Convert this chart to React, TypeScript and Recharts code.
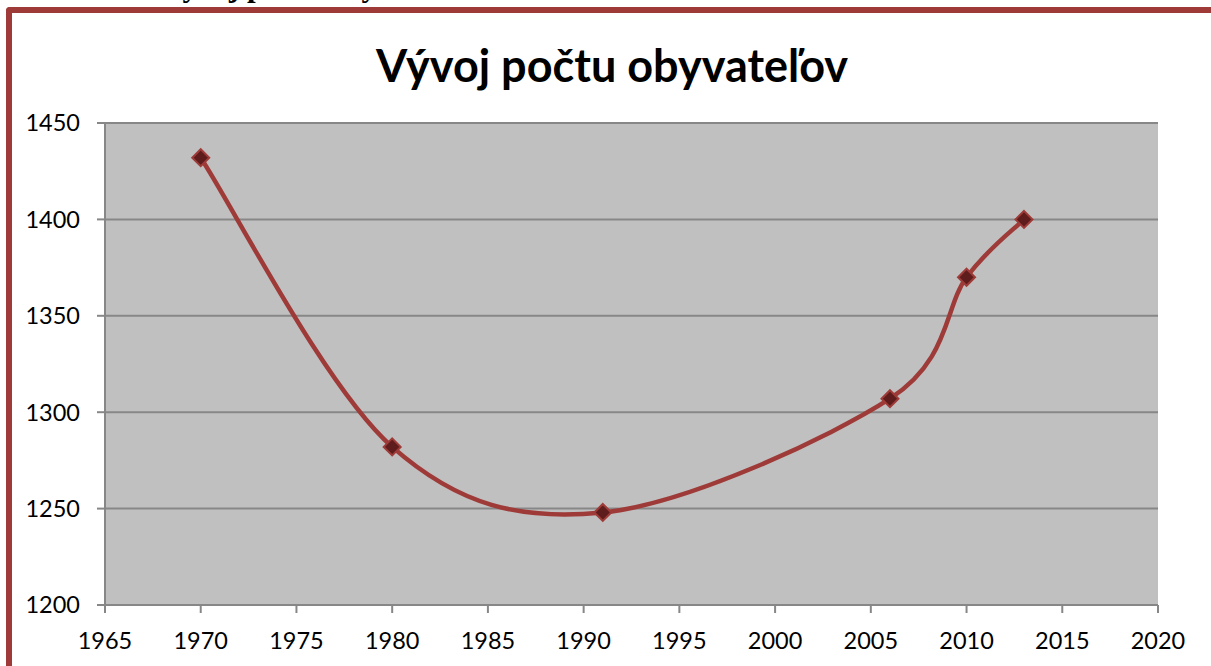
import { LineChart, Line, XAxis, YAxis, CartesianGrid } from "recharts";

const years = [1970, 1980, 1991, 2006, 2010, 2013];
const population = [1432, 1282, 1248, 1307, 1370, 1400];
const xTicks = [1965, 1970, 1975, 1980, 1985, 1990, 1995, 2000, 2005, 2010, 2015, 2020];
const yTicks = [1200, 1250, 1300, 1350, 1400, 1450];

const data = years.map((year, i) => ({ year, value: population[i] }));

const RED = "#9E3B38";
const GRID = "#878787";
const FONT = "Lato, 'Noto Sans', sans-serif";

// smooth line like the spreadsheet's "smoothed line" (catmull-rom through points)
const smoothCurve = (context: any) => {
  let pts: number[][] = [];
  return {
    areaStart() {},
    areaEnd() {},
    lineStart() {
      pts = [];
    },
    point(x: number, y: number) {
      pts.push([+x, +y]);
    },
    lineEnd() {
      if (!pts.length) return;
      context.moveTo(pts[0][0], pts[0][1]);
      for (let i = 0; i < pts.length - 1; i++) {
        const p0 = pts[i - 1] || pts[i];
        const p1 = pts[i];
        const p2 = pts[i + 1];
        const p3 = pts[i + 2] || p2;
        context.bezierCurveTo(
          p1[0] + (p2[0] - p0[0]) / 6,
          p1[1] + (p2[1] - p0[1]) / 6,
          p2[0] - (p3[0] - p1[0]) / 6,
          p2[1] - (p3[1] - p1[1]) / 6,
          p2[0],
          p2[1]
        );
      }
    },
  };
};

const Diamond = (props: any) => {
  const { cx, cy, index } = props;
  const r = 8.5;
  return (
    <path
      key={"d" + index}
      d={`M${cx},${cy - r}L${cx + r},${cy}L${cx},${cy + r}L${cx - r},${cy}Z`}
      fill="#5E1D1C"
      stroke={RED}
      strokeWidth={2}
    />
  );
};

export default function App() {
  return (
    <div
      style={{
        position: "absolute",
        left: 0,
        top: 0,
        width: 1211,
        height: 666,
        overflow: "hidden",
        background: "#fff",
      }}
    >
      <div
        style={{
          position: "absolute",
          left: 160,
          top: -30,
          fontFamily: "'Liberation Serif', serif",
          fontWeight: "bold",
          fontSize: 31,
          lineHeight: 1,
          whiteSpace: "nowrap",
        }}
      >
        Vývoj počtu obyvateľov
      </div>
      <div
        style={{
          position: "absolute",
          left: 6,
          top: 7,
          width: 1300,
          height: 800,
          borderLeft: `6px solid ${RED}`,
          borderTop: `6px solid ${RED}`,
          borderTopLeftRadius: 4,
        }}
      />
      <div
        style={{
          position: "absolute",
          left: 0,
          width: 1224,
          top: 38,
          textAlign: "center",
          fontFamily: FONT,
          fontWeight: "bold",
          fontSize: 45,
          lineHeight: "54px",
          color: "#000",
        }}
      >
        Vývoj počtu obyvateľov
      </div>
      <div style={{ position: "absolute", left: 0, top: 0 }}>
        <LineChart
          width={1211}
          height={666}
          data={data}
          margin={{ top: 123, right: 53, bottom: 0, left: 0 }}
        >
          <CartesianGrid
            vertical={false}
            stroke={GRID}
            strokeWidth={2}
            fill="#C0C0C0"
            fillOpacity={1}
          />
          <XAxis
            dataKey="year"
            type="number"
            domain={[1965, 2020]}
            ticks={xTicks}
            height={61}
            tickSize={8}
            tickMargin={19}
            axisLine={{ stroke: GRID, strokeWidth: 2 }}
            tickLine={{ stroke: GRID, strokeWidth: 2 }}
            tick={{ fill: "#000", fontSize: 23.5, fontFamily: FONT }}
            interval={0}
          />
          <YAxis
            type="number"
            domain={[1200, 1450]}
            ticks={yTicks}
            width={105}
            tickSize={8}
            tickMargin={17}
            axisLine={{ stroke: GRID, strokeWidth: 2 }}
            tickLine={{ stroke: GRID, strokeWidth: 2 }}
            tick={{ fill: "#000", fontSize: 23.5, fontFamily: FONT }}
            interval={0}
          />
          <Line
            dataKey="value"
            type={smoothCurve as any}
            stroke={RED}
            strokeWidth={4.5}
            dot={Diamond}
            activeDot={false}
            isAnimationActive={false}
          />
        </LineChart>
      </div>
    </div>
  );
}
